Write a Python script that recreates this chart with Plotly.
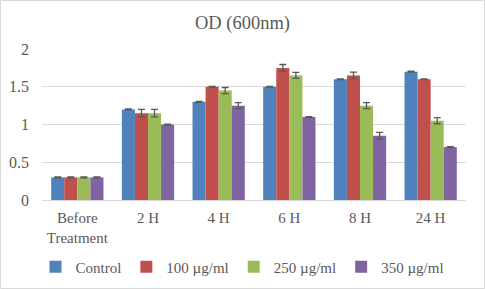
import plotly.graph_objects as go

categories = ["Before<br>Treatment", "2 H", "4 H", "6 H", "8 H", "24 H"]
series_names = ["Control", "100 µg/ml", "250 µg/ml", "350 µg/ml"]
control = [0.30, 1.20, 1.30, 1.50, 1.60, 1.70]
c100 = [0.30, 1.15, 1.50, 1.75, 1.65, 1.60]
c250 = [0.30, 1.15, 1.45, 1.65, 1.25, 1.05]
c350 = [0.30, 1.00, 1.25, 1.10, 0.85, 0.70]
err_control = [0.005, 0.005, 0.005, 0.005, 0.005, 0.005]
err_100 = [0.005, 0.05, 0.005, 0.045, 0.045, 0.005]
err_250 = [0.005, 0.05, 0.04, 0.04, 0.04, 0.04]
err_350 = [0.005, 0.005, 0.04, 0.005, 0.045, 0.005]
colors = ["#4F81BD", "#C0504D", "#9BBB59", "#8064A2"]

W, H = 485, 289
ml, mr, mt, mb = 42, 19, 49, 89
pw, ph = W - ml - mr, H - mt - mb

fig = go.Figure()
for name, vals, errs, col in zip(series_names, [control, c100, c250, c350],
                                 [err_control, err_100, err_250, err_350], colors):
    fig.add_trace(go.Bar(
        x=categories, y=vals, name=name, marker=dict(color=col, line=dict(width=0)),
        error_y=dict(type="data", array=errs, visible=True, color="#595959", thickness=1.3, width=3.5),
    ))

fig.update_layout(
    width=W, height=H,
    margin=dict(l=ml, r=mr, t=mt, b=mb, autoexpand=False),
    paper_bgcolor="white", plot_bgcolor="white",
    font=dict(family="Liberation Serif, Times New Roman, serif", size=15, color="#595959"),
    title=dict(text="OD (600nm)", x=0.5, xanchor="center", y=1 - 23 / H, yanchor="middle",
               font=dict(size=18.5, color="#595959")),
    barmode="group", bargap=0.26, bargroupgap=0,
    showlegend=True,
    legend=dict(orientation="h", xref="container", yref="container", x=0.5, xanchor="center",
                y=1 - 267 / H, yanchor="middle",
                font=dict(size=15, color="#595959"), itemwidth=30, traceorder="normal"),
    xaxis=dict(showgrid=False, showline=True, linecolor="#D9D9D9", linewidth=1, ticks="",
               automargin=False, tickfont=dict(size=15, color="#595959"), ticklabelstandoff=4),
    yaxis=dict(range=[0, 2], dtick=0.5, showgrid=True, gridcolor="#D9D9D9", gridwidth=1,
               zeroline=False, showline=False, ticks="", automargin=False,
               tickfont=dict(size=16, color="#595959"), ticklabelstandoff=12),
)
fig.add_shape(type="rect", xref="paper", yref="paper",
              x0=(0.5 - ml) / pw, x1=(W - 0.5 - ml) / pw,
              y0=(ph + mt - (H - 0.5)) / ph, y1=(ph + mt - 0.5) / ph,
              line=dict(color="#D9D9D9", width=1), fillcolor="rgba(0,0,0,0)", layer="below")
fig.write_html("out.html", config={"displayModeBar": False},
               post_script="document.body.style.margin='0';document.body.style.overflow='hidden';")
